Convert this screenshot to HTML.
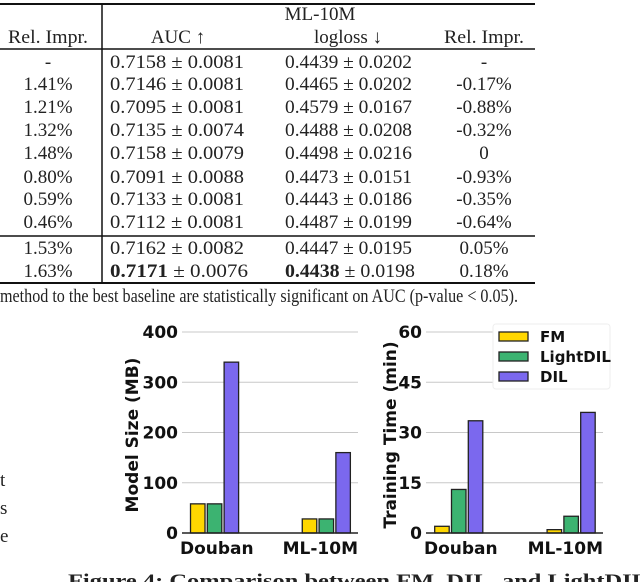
<!DOCTYPE html>
<html><head><meta charset="utf-8">
<style>
html,body{margin:0;padding:0;background:#fff;}
svg{display:block;}
.s{font-family:"Liberation Serif",serif;font-size:19px;fill:#222;}
.b{font-family:"DejaVu Sans",sans-serif;font-weight:bold;fill:#111;}
</style></head>
<body>
<svg id="page" width="640" height="582" viewBox="0 0 640 582" xmlns="http://www.w3.org/2000/svg">
<g id="table"></g>
<g id="chart1"></g>
<g id="chart2"></g>
<g>
  <rect x="493" y="324" width="117" height="65" fill="#fff" stroke="#eee" rx="3"/>
  <rect x="499" y="332" width="29" height="9" fill="#FFD700" stroke="#222" stroke-width="1.3"/>
  <text class="b" x="540" y="342" font-size="15">FM</text>
  <rect x="499" y="352" width="29" height="9" fill="#3CB371" stroke="#222" stroke-width="1.3"/>
  <text class="b" x="540" y="362" font-size="15">LightDIL</text>
  <rect x="499" y="372" width="29" height="9" fill="#7B68EE" stroke="#222" stroke-width="1.3"/>
  <text class="b" x="540" y="382" font-size="15">DIL</text>
</g>
<g>
  <text class="s" x="0" y="486" font-size="21">t</text>
  <text class="s" x="0" y="514" font-size="21">s</text>
  <text class="s" x="0" y="542" font-size="21">e</text>
</g>
<text class="s" x="68" y="587" font-size="21" font-weight="bold" textLength="580" lengthAdjust="spacingAndGlyphs">Figure 4: Comparison between FM, DIL, and LightDIL</text>
</svg>
<script>
// table data
const leftRel = ["-","1.41%","1.21%","1.32%","1.48%","0.80%","0.59%","0.46%","1.53%","1.63%"];
const aucVals = ["0.7158","0.7146","0.7095","0.7135","0.7158","0.7091","0.7133","0.7112","0.7162","0.7171"];
const aucStd = ["0.0081","0.0081","0.0081","0.0074","0.0079","0.0088","0.0081","0.0081","0.0082","0.0076"];
const llVals = ["0.4439","0.4465","0.4579","0.4488","0.4498","0.4473","0.4443","0.4487","0.4447","0.4438"];
const llStd = ["0.0202","0.0202","0.0167","0.0208","0.0216","0.0151","0.0186","0.0199","0.0195","0.0198"];
const rightRel = ["-","-0.17%","-0.88%","-0.32%","0","-0.93%","-0.35%","-0.64%","0.05%","0.18%"];
// chart data
const groups = ["Douban","ML-10M"];
const series = ["FM","LightDIL","DIL"];
const sizeFM = [58, 28];
const sizeLight = [58, 28];
const sizeDIL = [340, 160];
const timeFM = [2, 1];
const timeLight = [13, 5];
const timeDIL = [33.5, 36];
const sizeTicks = [0,100,200,300,400];
const timeTicks = [0,15,30,45,60];

const NS="http://www.w3.org/2000/svg";
function mk(tag, attrs, parent, txt){
  const e=document.createElementNS(NS,tag);
  for(const k in attrs) e.setAttribute(k,attrs[k]);
  if(txt!==undefined) e.textContent=txt;
  parent.appendChild(e); return e;
}
// ---- table
const T=document.getElementById('table');
mk('line',{x1:0,y1:4,x2:535,y2:4,stroke:'#111','stroke-width':2},T);
mk('line',{x1:0,y1:49,x2:535,y2:49,stroke:'#111','stroke-width':1.5},T);
mk('line',{x1:0,y1:236,x2:535,y2:236,stroke:'#111','stroke-width':1.5},T);
mk('line',{x1:0,y1:283,x2:535,y2:283,stroke:'#111','stroke-width':2},T);
mk('line',{x1:102,y1:4,x2:102,y2:283,stroke:'#111','stroke-width':1.5},T);
let h=mk('text',{class:'s',x:320,y:20,'text-anchor':'middle'},T,'ML-10M');


mk('text',{class:'s',x:48,y:43,'text-anchor':'middle',textLength:80,lengthAdjust:'spacingAndGlyphs'},T,'Rel. Impr.');
mk('text',{class:'s',x:178,y:43,'text-anchor':'middle'},T,'AUC ↑');
mk('text',{class:'s',x:348,y:43,'text-anchor':'middle'},T,'logloss ↓');
mk('text',{class:'s',x:484,y:43,'text-anchor':'middle',textLength:80,lengthAdjust:'spacingAndGlyphs'},T,'Rel. Impr.');
const rowY=[62,84,107,130,153,177,199,222,248,271];
for(let i=0;i<leftRel.length;i++){
  const y=rowY[i]+6;
  const r=mk('g',{},T);
  
  
  mk('text',{class:'s',x:48,y:y,'text-anchor':'middle'},r,leftRel[i]);
  const best=i===9;
  const t1=mk('text',{class:'s',x:110,y:y,textLength:best?138:134,lengthAdjust:'spacingAndGlyphs'},r);
  mk('tspan',{'font-weight':best?'bold':'normal'},t1,aucVals[i]);
  mk('tspan',{},t1,' ± '+aucStd[i]);
  const t2=mk('text',{class:'s',x:285,y:y,textLength:best?130:127,lengthAdjust:'spacingAndGlyphs'},r);
  mk('tspan',{'font-weight':best?'bold':'normal'},t2,llVals[i]);
  mk('tspan',{},t2,' ± '+llStd[i]);
  mk('text',{class:'s',x:484,y:y,'text-anchor':'middle'},r,rightRel[i]);
}
let fn=mk('text',{class:'s',x:0,y:302,'font-size':15,textLength:518,lengthAdjust:'spacingAndGlyphs'},T,'method to the best baseline are statistically significant on AUC (p-value < 0.05).');



// ---- charts
const colors=["#FFD700","#3CB371","#7B68EE"];
function chart(id, x0, x1, ymax, ticks, data, title, titleX){
  const G=document.getElementById(id);
  const yTop=332, yBot=533;
  const ys=v=>yBot-(v/ymax)*(yBot-yTop);
  ticks.forEach(t=>{
    if(t>0) mk('line',{x1:x0,y1:ys(t),x2:x1,y2:ys(t),stroke:'#c8c8c8','stroke-width':1},G);
    const tl=mk('text',{class:'b',x:x0-4,y:ys(t)+6,'font-size':17,'text-anchor':'end'},G,String(t));
    
    
  });
  const w=(x1-x0);
  const gc=[x0+0.185*w, x0+0.82*w];
  const bw=14.5, step=16.8;
  groups.forEach((g,gi)=>{
    data.forEach((s,si)=>{
      const cx=gc[gi]+(si-1)*step;
      const b=mk('rect',{x:cx-bw/2,y:ys(s[gi]),width:bw,height:yBot-ys(s[gi]),fill:colors[si],stroke:'#222','stroke-width':1.3},G);
      
      
    });
  });
  mk('line',{x1:x0,y1:yBot,x2:x1,y2:yBot,stroke:'#222','stroke-width':1.5},G);
  const xl1=mk('text',{class:'b',x:x0-2,y:554,'font-size':17},G,groups[0]);
  
  
  const xl2=mk('text',{class:'b',x:x1,y:554,'font-size':17,'text-anchor':'end'},G,groups[1]);
  
  
  const yt=mk('text',{class:'b','font-size':17,'text-anchor':'middle',transform:'translate('+titleX+',435) rotate(-90)'},G,title);
  
  
}
chart('chart1',182,358,400,sizeTicks,[sizeFM,sizeLight,sizeDIL],'Model Size (MB)',138);
chart('chart2',426,603,60,timeTicks,[timeFM,timeLight,timeDIL],'Training Time (min)',396);
</script>
</body></html>
